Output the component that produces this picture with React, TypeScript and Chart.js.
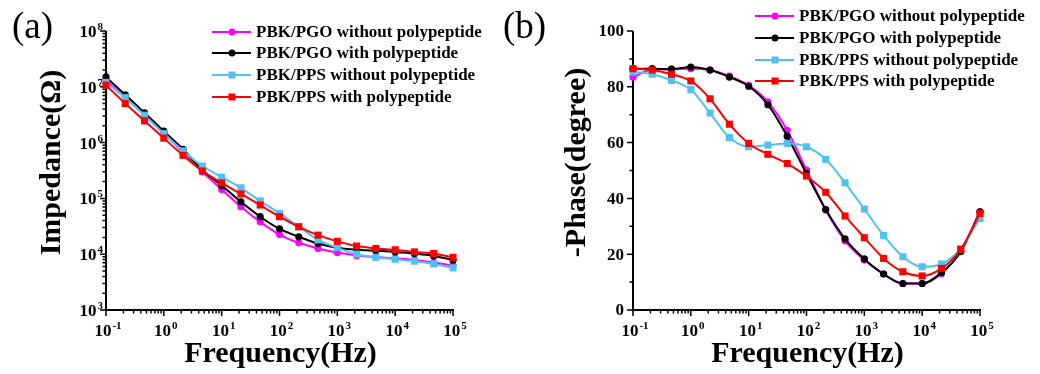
import { useEffect, useRef } from 'react';
import { Chart, registerables } from 'chart.js';

Chart.register(...registerables);

const FONT = "'Liberation Serif', 'Times New Roman', serif";

// Frequencies (Hz), 3 points per decade
const frequencies = [0.1, 0.215, 0.464, 1, 2.15, 4.64, 10, 21.5, 46.4, 100, 215, 464, 1000, 2154, 4642, 10000, 21544, 46416, 100000];

const seriesNames = [
  'PBK/PGO without polypeptide',
  'PBK/PGO with polypeptide',
  'PBK/PPS without polypeptide',
  'PBK/PPS with polypeptide',
];
const seriesColors = ['#FF00FF', '#000000', '#4FC1F2', '#FF0000'];
const seriesMarkers = ['circle', 'circle', 'rect', 'rect'];

// Impedance (Ohm)
const impPgoWithout = [1.3e7, 6.6e6, 3.1e6, 1.45e6, 6.8e5, 3.0e5, 1.45e5, 7.1e4, 3.8e4, 2.25e4, 1.6e4, 1.27e4, 1.07e4, 9.5e3, 8.9e3, 8.4e3, 7.9e3, 7.1e3, 6.3e3];
const impPgoWith = [1.5e7, 7.2e6, 3.4e6, 1.6e6, 7.6e5, 3.2e5, 1.7e5, 8.7e4, 4.7e4, 2.85e4, 2.05e4, 1.55e4, 1.3e4, 1.2e4, 1.15e4, 1.1e4, 1.03e4, 9.3e3, 7.9e3];
const impPpsWithout = [1.2e7, 6.4e6, 3.1e6, 1.45e6, 7.1e5, 3.8e5, 2.4e5, 1.55e5, 9.0e4, 5.4e4, 3.1e4, 1.8e4, 1.3e4, 1.0e4, 8.8e3, 8.1e3, 7.5e3, 6.7e3, 5.7e3];
const impPpsWith = [1.07e7, 5.0e6, 2.45e6, 1.2e6, 5.9e5, 3.1e5, 1.9e5, 1.2e5, 7.6e4, 4.7e4, 3.1e4, 2.2e4, 1.7e4, 1.4e4, 1.27e4, 1.2e4, 1.1e4, 1.03e4, 8.8e3];

// -Phase (degree)
const phasePgoWithout = [83.5, 86.2, 86.3, 86.5, 86.0, 83.8, 80.5, 74.6, 64.4, 50.1, 35.8, 24.8, 17.9, 12.9, 9.5, 9.5, 13.1, 21.2, 35.2];
const phasePgoWith = [86.5, 86.5, 86.3, 87.1, 86.0, 83.5, 80.2, 73.6, 62.3, 48.9, 36.0, 25.5, 18.3, 12.9, 9.5, 9.5, 13.4, 20.9, 35.2];
const phasePpsWithout = [85.3, 84.5, 82.3, 79.0, 70.6, 61.8, 58.5, 59.1, 59.7, 58.5, 54.0, 45.6, 36.2, 26.7, 19.1, 15.5, 16.5, 22.0, 32.8];
const phasePpsWith = [86.5, 86.0, 84.5, 82.1, 75.7, 66.6, 59.7, 55.8, 52.5, 48.0, 42.2, 33.7, 25.9, 18.5, 13.7, 12.2, 14.9, 21.7, 34.6];

const impedanceSeries = [impPgoWithout, impPgoWith, impPpsWithout, impPpsWith];
const phaseSeries = [phasePgoWithout, phasePgoWith, phasePpsWithout, phasePpsWith];

const xDecades = [-1, 0, 1, 2, 3, 4, 5];
const impDecades = [3, 4, 5, 6, 7, 8];
const phaseTicks = [0, 20, 40, 60, 80, 100];

function drawPow(ctx: CanvasRenderingContext2D, exp: number, x: number, baseY: number, align: 'center' | 'right', size: number) {
  const supSize = Math.round(size * 0.62);
  ctx.font = `bold ${size}px ${FONT}`;
  const wb = ctx.measureText('10').width;
  ctx.font = `bold ${supSize}px ${FONT}`;
  const sup = String(exp);
  const ws = ctx.measureText(sup).width;
  const total = wb + ws + 1;
  const sx = align === 'center' ? x - total / 2 : x - total;
  ctx.textAlign = 'left';
  ctx.textBaseline = 'alphabetic';
  ctx.font = `bold ${size}px ${FONT}`;
  ctx.fillText('10', sx, baseY);
  ctx.font = `bold ${supSize}px ${FONT}`;
  ctx.fillText(sup, sx + wb + 1, baseY - 7);
}

type PanelCfg = {
  kind: 'imp' | 'phase';
  panelLabel: string;
  panelLabelX: number;
  yTitle: string;
  yTitleX: number;
  legendLineX: number;
  legendRows: number[];
};

function makePlugin(cfg: PanelCfg) {
  return {
    id: 'customAxes',
    beforeDatasetsDraw(chart: any) {
      const ctx: CanvasRenderingContext2D = chart.ctx;
      const xs = chart.scales.x;
      const ys = chart.scales.y;
      const { left, right, top, bottom } = chart.chartArea;
      ctx.save();
      ctx.strokeStyle = '#000';
      ctx.fillStyle = '#000';
      ctx.lineWidth = 2;
      ctx.beginPath();
      ctx.moveTo(left, top);
      ctx.lineTo(left, bottom);
      ctx.lineTo(right + 1, bottom);
      ctx.stroke();

      // x ticks (log)
      ctx.lineWidth = 1.5;
      ctx.beginPath();
      for (const d of xDecades) {
        const px = xs.getPixelForValue(Math.pow(10, d));
        ctx.moveTo(px, bottom);
        ctx.lineTo(px, bottom + 6);
        if (d < 5) {
          for (let k = 2; k <= 9; k++) {
            const mx = xs.getPixelForValue(k * Math.pow(10, d));
            ctx.moveTo(mx, bottom);
            ctx.lineTo(mx, bottom + 3.5);
          }
        }
      }
      ctx.stroke();

      // y ticks
      ctx.beginPath();
      if (cfg.kind === 'imp') {
        for (const d of impDecades) {
          const py = ys.getPixelForValue(Math.pow(10, d));
          ctx.moveTo(left, py);
          ctx.lineTo(left - 6, py);
          if (d < 8) {
            for (let k = 2; k <= 9; k++) {
              const my = ys.getPixelForValue(k * Math.pow(10, d));
              ctx.moveTo(left, my);
              ctx.lineTo(left - 3.5, my);
            }
          }
        }
      } else {
        for (let v = 0; v <= 100; v += 10) {
          const py = ys.getPixelForValue(v);
          const len = v % 20 === 0 ? 6 : 3.5;
          ctx.moveTo(left, py);
          ctx.lineTo(left - len, py);
        }
      }
      ctx.stroke();

      // x tick labels
      for (const d of xDecades) {
        const px = xs.getPixelForValue(Math.pow(10, d));
        drawPow(ctx, d, px + 2, bottom + 26, 'center', 17);
      }
      // y tick labels
      if (cfg.kind === 'imp') {
        for (const d of impDecades) {
          const py = ys.getPixelForValue(Math.pow(10, d));
          drawPow(ctx, d, left - 3, py + 6, 'right', 17);
        }
      } else {
        ctx.font = `bold 17px ${FONT}`;
        ctx.textAlign = 'right';
        ctx.textBaseline = 'middle';
        for (const v of phaseTicks) {
          const py = ys.getPixelForValue(v);
          ctx.fillText(String(v), left - 9, py + 1);
        }
      }

      // axis titles
      ctx.font = `bold 30px ${FONT}`;
      ctx.textAlign = 'center';
      ctx.textBaseline = 'middle';
      ctx.fillText('Frequency(Hz)', (left + right) / 2 + 1, bottom + 44);
      ctx.save();
      ctx.translate(cfg.yTitleX, (top + bottom) / 2 - 8);
      ctx.rotate(-Math.PI / 2);
      ctx.fillText(cfg.yTitle, 0, 0);
      ctx.restore();

      // panel label
      ctx.font = `37px ${FONT}`;
      ctx.textAlign = 'left';
      ctx.textBaseline = 'alphabetic';
      ctx.fillText(cfg.panelLabel, cfg.panelLabelX, 38);
      ctx.restore();
    },
    afterDraw(chart: any) {
      const ctx: CanvasRenderingContext2D = chart.ctx;
      ctx.save();
      const x0 = cfg.legendLineX;
      for (let i = 0; i < seriesNames.length; i++) {
        const y = cfg.legendRows[i];
        ctx.strokeStyle = seriesColors[i];
        ctx.fillStyle = seriesColors[i];
        ctx.lineWidth = 2;
        ctx.beginPath();
        ctx.moveTo(x0, y);
        ctx.lineTo(x0 + 39, y);
        ctx.stroke();
        const mx = x0 + 20;
        if (seriesMarkers[i] === 'circle') {
          ctx.beginPath();
          ctx.arc(mx, y, 3.5, 0, Math.PI * 2);
          ctx.fill();
        } else {
          ctx.fillRect(mx - 3.5, y - 3.5, 7, 7);
        }
        ctx.fillStyle = '#000';
        ctx.font = `bold 17px ${FONT}`;
        ctx.textAlign = 'left';
        ctx.textBaseline = 'middle';
        ctx.fillText(seriesNames[i], x0 + 44, y + 1);
      }
      ctx.restore();
    },
  };
}

function buildDatasets(values: number[][], tension: number, monotone: boolean) {
  return values.map((vals, i) => ({
    label: seriesNames[i],
    data: frequencies.map((f, j) => ({ x: f, y: vals[j] })),
    borderColor: seriesColors[i],
    backgroundColor: seriesColors[i],
    borderWidth: 2,
    pointStyle: seriesMarkers[i],
    pointRadius: seriesMarkers[i] === 'circle' ? 3.6 : 5,
    pointBorderWidth: 0,
    pointBackgroundColor: seriesColors[i],
    tension,
    cubicInterpolationMode: monotone ? 'monotone' : 'default',
    clip: false,
    order: 4 - i,
  }));
}

function Panel(props: { cfg: PanelCfg; left: number; width: number; padding: any }) {
  const ref = useRef<HTMLCanvasElement>(null);
  useEffect(() => {
    const canvas = ref.current;
    if (!canvas) return;
    const isImp = props.cfg.kind === 'imp';
    const chart = new Chart(canvas, {
      type: 'line',
      data: {
        datasets: buildDatasets(isImp ? impedanceSeries : phaseSeries, isImp ? 0.25 : 0.4, !isImp) as any,
      },
      options: {
        animation: false,
        responsive: false,
        devicePixelRatio: 1,
        layout: { padding: props.padding },
        plugins: { legend: { display: false }, tooltip: { enabled: false } },
        scales: {
          x: { type: 'logarithmic', min: 0.1, max: 100000, display: false },
          y: isImp
            ? { type: 'logarithmic', min: 1000, max: 1e8, display: false }
            : { type: 'linear', min: 0, max: 100, display: false },
        },
      },
      plugins: [makePlugin(props.cfg)],
    });
    return () => chart.destroy();
  }, []);
  return (
    <canvas
      ref={ref}
      width={props.width}
      height={374}
      style={{ position: 'absolute', left: props.left, top: 0, width: props.width, height: 374 }}
    />
  );
}

const cfgA: PanelCfg = {
  kind: 'imp',
  panelLabel: '(a)',
  panelLabelX: 12,
  yTitle: 'Impedance(Ω)',
  yTitleX: 52,
  legendLineX: 212,
  legendRows: [32, 53, 75, 97],
};

const cfgB: PanelCfg = {
  kind: 'phase',
  panelLabel: '(b)',
  panelLabelX: 13,
  yTitle: '-Phase(degree)',
  yTitleX: 87,
  legendLineX: 265,
  legendRows: [16, 38, 60, 81],
};

export default function App() {
  return (
    <div style={{ position: 'absolute', left: 0, top: 0, width: 1040, height: 374, background: '#fff', overflow: 'hidden' }}>
      <Panel cfg={cfgA} left={0} width={490} padding={{ left: 106, right: 37, top: 31, bottom: 64 }} />
      <Panel cfg={cfgB} left={490} width={550} padding={{ left: 143, right: 60, top: 31, bottom: 64 }} />
    </div>
  );
}
